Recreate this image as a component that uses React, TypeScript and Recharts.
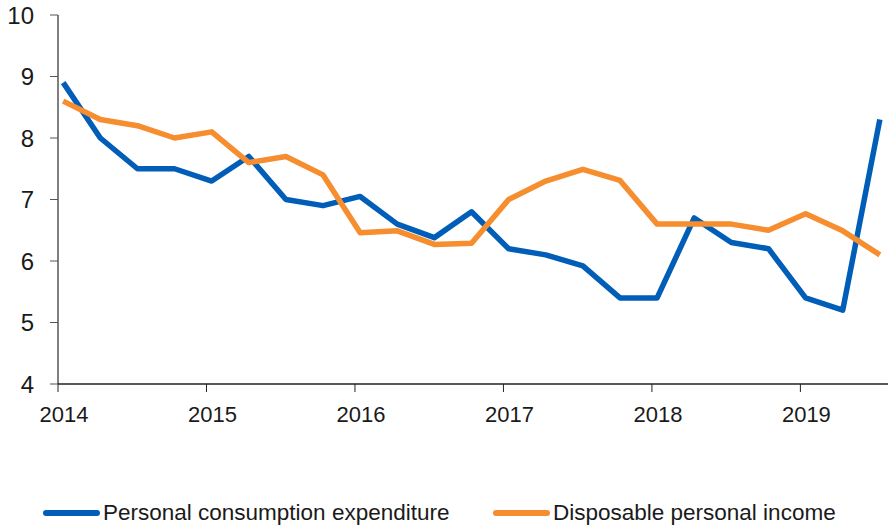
import { LineChart, Line, XAxis, YAxis, Legend } from 'recharts'

// quarterly observations, plotted as decimal years
const periods = [
  2014.035, 2014.285, 2014.535, 2014.785,
  2015.035, 2015.285, 2015.535, 2015.785,
  2016.035, 2016.285, 2016.535, 2016.785,
  2017.035, 2017.285, 2017.535, 2017.785,
  2018.035, 2018.285, 2018.535, 2018.785,
  2019.035, 2019.285, 2019.535,
]
const consumption = [
  8.9, 8.0, 7.5, 7.5, 7.3, 7.7, 7.0, 6.9, 7.05, 6.6, 6.38, 6.8,
  6.2, 6.1, 5.92, 5.4, 5.4, 6.7, 6.3, 6.2, 5.4, 5.2, 8.3,
]
const income = [
  8.6, 8.3, 8.2, 8.0, 8.1, 7.6, 7.7, 7.4, 6.46, 6.49, 6.27, 6.29,
  7.0, 7.3, 7.49, 7.31, 6.6, 6.6, 6.6, 6.5, 6.77, 6.49, 6.1,
]
const yearTicks = [2014, 2015, 2016, 2017, 2018, 2019]
const valueTicks = [4, 5, 6, 7, 8, 9, 10]

const BLUE = '#005EB8'
const ORANGE = '#F68D2E'
const FONT = '"Liberation Sans", Arial, sans-serif'

const data = periods.map((p, i) => ({ t: p, pce: consumption[i], dpi: income[i] }))

const legendItems = [
  { label: 'Personal consumption expenditure', color: BLUE, left: 43 },
  { label: 'Disposable personal income', color: ORANGE, left: 493 },
]

function ChartLegend() {
  return (
    <div style={{ position: 'relative', width: 888, height: 30, fontFamily: FONT }}>
      {legendItems.map((it) => (
        <div
          key={it.label}
          style={{ position: 'absolute', left: it.left, top: 0, display: 'flex', alignItems: 'center' }}
        >
          <span
            style={{ display: 'inline-block', width: 57, height: 6, borderRadius: 3, background: it.color }}
          />
          <span style={{ fontSize: 22.5, color: '#1a1a1a', marginLeft: 3, lineHeight: '30px' }}>{it.label}</span>
        </div>
      ))}
    </div>
  )
}

export default function App() {
  return (
    <div style={{ position: 'absolute', left: 0, top: 0, width: 888, height: 527, background: '#fff' }}>
      <LineChart width={888} height={527} data={data} margin={{ top: 15, right: 0, left: 0, bottom: 0 }}>
        <XAxis
          dataKey="t"
          type="number"
          domain={[2014, 2019.59]}
          ticks={yearTicks}
          allowDataOverflow
          height={143}
          tickSize={8}
          tickMargin={14}
          tick={{ fontSize: 22, fill: '#1a1a1a', fontFamily: FONT, dx: 6 }}
          axisLine={{ stroke: '#222', strokeWidth: 1.6 }}
          tickLine={{ stroke: '#222' }}
        />
        <YAxis
          type="number"
          domain={[4, 10]}
          ticks={valueTicks}
          width={58}
          tickSize={8}
          tickMargin={16}
          tick={{ fontSize: 24, fill: '#1a1a1a', fontFamily: FONT }}
          axisLine={{ stroke: '#000' }}
          tickLine={{ stroke: '#555' }}
        />
        <Legend
          verticalAlign="middle"
          content={() => <ChartLegend />}
          wrapperStyle={{ top: 498, left: 0, width: 888 }}
        />
        <Line
          dataKey="pce"
          stroke={BLUE}
          strokeWidth={5.5}
          strokeLinejoin="round"
          dot={false}
          isAnimationActive={false}
        />
        <Line
          dataKey="dpi"
          stroke={ORANGE}
          strokeWidth={5.5}
          strokeLinejoin="round"
          dot={false}
          isAnimationActive={false}
        />
      </LineChart>
    </div>
  )
}
